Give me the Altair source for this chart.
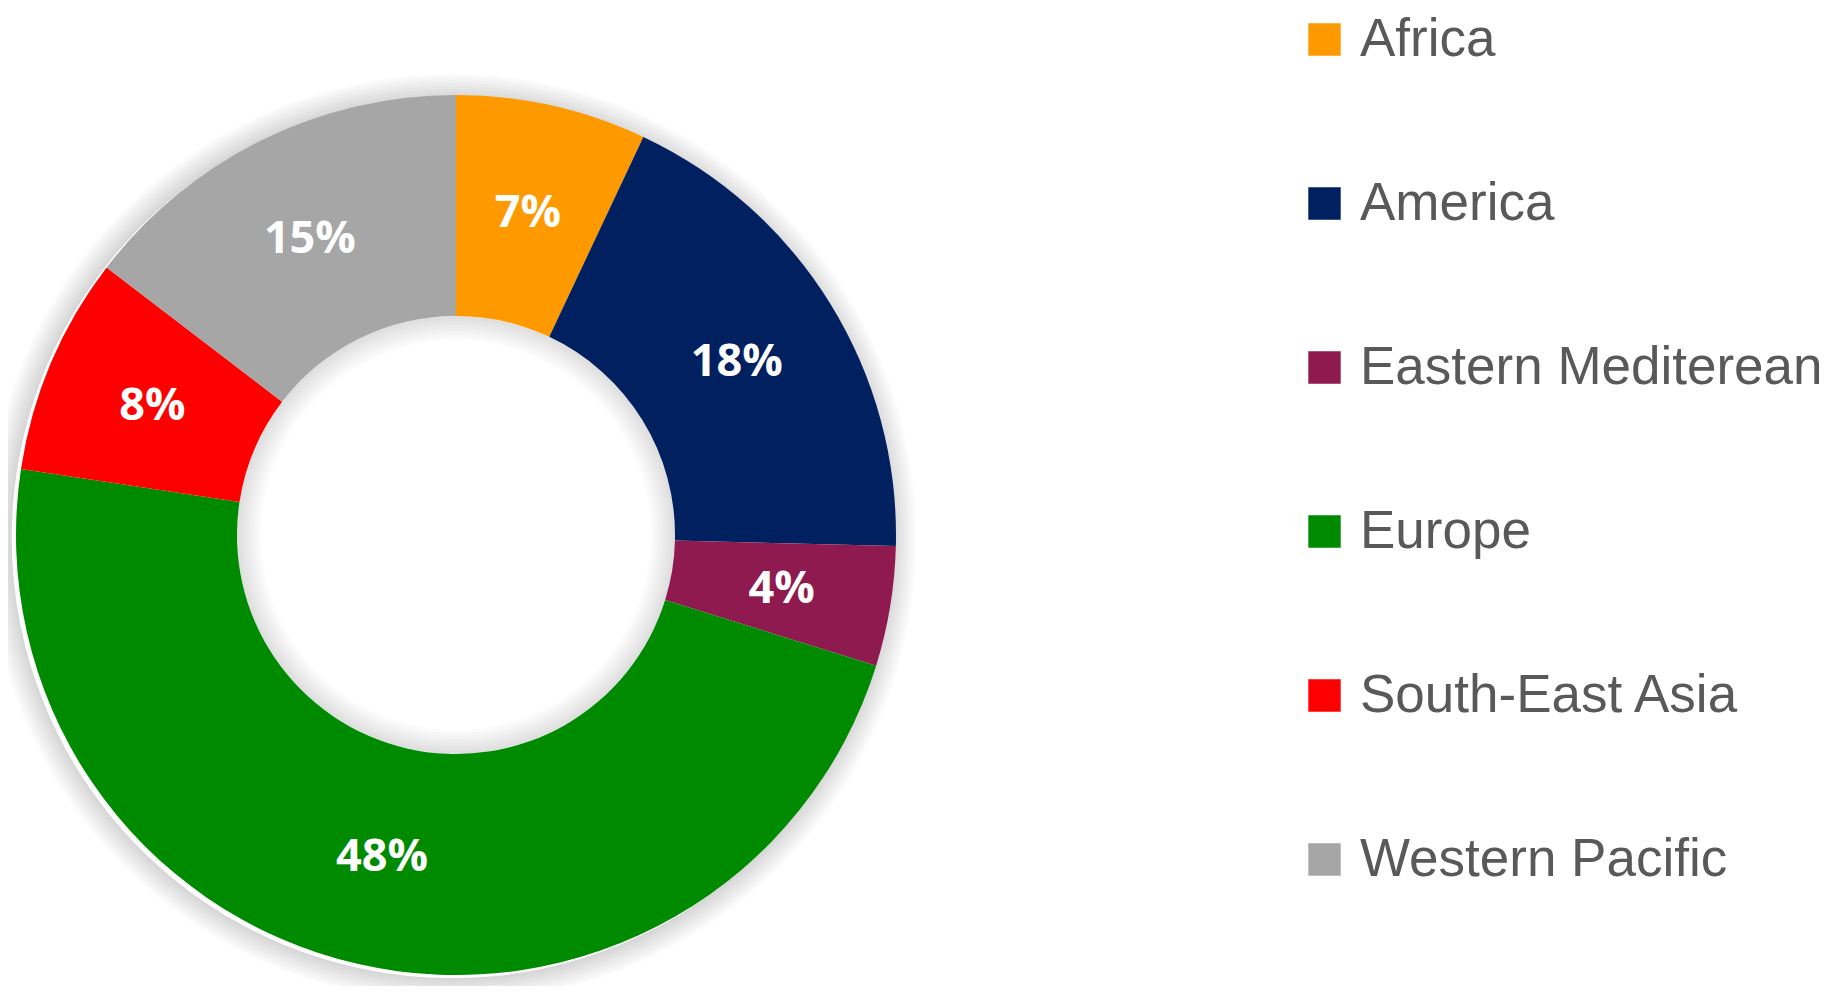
import altair as alt
import pandas as pd

regions = ["Africa", "America", "Eastern Mediterean", "Europe", "South-East Asia", "Western Pacific"]
shares = [7.0, 18.4, 4.4, 47.6, 8.0, 14.6]
colors = ["#FF9900", "#002060", "#8E1A50", "#008A00", "#FF0000", "#A6A6A6"]
labels = [f"{round(v)}%" for v in shares]

df = pd.DataFrame({"region": regions, "share": shares, "label": labels, "order": list(range(len(regions)))})

CX, CY = 448, 527
R_OUT, R_IN = 440, 219

glow_layers = []
for i in range(8):
    glow_layers.append(
        alt.Chart(pd.DataFrame({"k": [0]})).mark_arc(
            radius=R_OUT + 3 + 3 * i, radius2=R_OUT, theta=0, theta2=6.2832,
            color="#000000", opacity=0.018
        ).encode(x=alt.value(CX - 4), y=alt.value(CY + 3))
    )
    glow_layers.append(
        alt.Chart(pd.DataFrame({"k": [0]})).mark_arc(
            radius=R_IN, radius2=R_IN - 3 - 3 * i, theta=0, theta2=6.2832,
            color="#000000", opacity=0.014
        ).encode(x=alt.value(CX), y=alt.value(CY))
    )

base = alt.Chart(df).encode(
    theta=alt.Theta("share:Q", stack=True),
    order=alt.Order("order:Q"),
)

donut = base.mark_arc(outerRadius=R_OUT, innerRadius=R_IN).encode(
    x=alt.value(CX), y=alt.value(CY),
    color=alt.Color(
        "region:N",
        scale=alt.Scale(domain=regions, range=colors),
        legend=alt.Legend(
            orient="none", legendX=1290, legendY=5, title=None,
            symbolType="square", symbolSize=1050, symbolStrokeWidth=0,
            labelFontSize=53, labelFont="Liberation Sans", labelColor="#595959",
            labelOffset=9, rowPadding=110, labelLimit=700,
        ),
    ),
)

text = base.mark_text(radius=330, fontSize=45, fontWeight="bold", font="Open Sans", color="white").encode(
    x=alt.value(CX), y=alt.value(CY), text="label:N"
)

chart = alt.layer(*glow_layers, donut, text).properties(
    width=1827, height=978, padding=0, autosize=alt.AutoSizeParams(type="none"),
    background="white",
).configure_view(stroke=None)

chart.save("out.html", embed_options={"renderer": "svg", "actions": False})
